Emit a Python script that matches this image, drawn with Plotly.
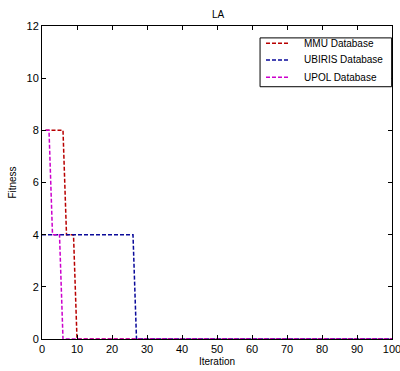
import plotly.graph_objects as go

mmu_x = list(range(1, 101))
mmu_fitness = [8]*6 + [4]*3 + [0]*91
ubiris_x = list(range(0, 101))
ubiris_fitness = [4]*27 + [0]*74
upol_x = list(range(1, 101))
upol_fitness = [8]*2 + [4]*3 + [0]*95

series = [
    ("MMU Database", mmu_x, mmu_fitness, "#b80000"),
    ("UBIRIS Database", ubiris_x, ubiris_fitness, "#0a0a9a"),
    ("UPOL Database", upol_x, upol_fitness, "#cc00cc"),
]

DASH = "4px,2px"
fig = go.Figure()
for name, xs, ys, color in series:
    fig.add_trace(go.Scatter(x=xs, y=ys, mode="lines", name=name, showlegend=False,
                             line=dict(color=color, width=1.5, dash=DASH)))

axis_common = dict(showgrid=False, zeroline=False, showline=True, linecolor="black",
                   linewidth=1, mirror="ticks", ticks="inside", ticklen=4,
                   tickcolor="black", tickfont=dict(size=11, color="black"),
                   automargin=False, ticklabeloverflow="allow")

shapes = [dict(type="rect", xref="paper", yref="paper", x0=0.623, x1=0.999,
               y0=0.806, y1=0.962, line=dict(color="black", width=1),
               fillcolor="white", layer="above")]
annotations = []
row_y = [0.9447, 0.8914, 0.836]
for (name, xs, ys, color), ry in zip(series, row_y):
    shapes.append(dict(type="line", xref="paper", yref="paper", x0=0.64, x1=0.707,
                       y0=ry, y1=ry, line=dict(color=color, width=1.5, dash=DASH),
                       layer="above"))
    annotations.append(dict(text=name, xref="paper", yref="paper", x=0.742, y=ry,
                            xanchor="left", yanchor="middle", showarrow=False,
                            font=dict(size=10, color="black")))

fig.update_layout(
    width=400, height=371,
    margin=dict(l=42, r=8, t=26, b=32, autoexpand=False),
    paper_bgcolor="white", plot_bgcolor="white",
    font=dict(family="Liberation Sans, Arial, sans-serif", size=11, color="black"),
    title=dict(text="LA", x=0.545, xanchor="center", y=0.962, yanchor="middle",
               font=dict(size=10), automargin=False),
    xaxis=dict(range=[0, 100], dtick=10, title=dict(text="Iteration", standoff=3, font=dict(size=10)), **axis_common),
    yaxis=dict(range=[0, 12], dtick=2, title=dict(text="Fitness", standoff=8, font=dict(size=10)), **axis_common),
    shapes=shapes,
    annotations=annotations,
    showlegend=False,
)

fig.write_html("out.html", config={"displayModeBar": False},
               post_script="document.body.style.margin='0';document.body.style.overflow='hidden';")
